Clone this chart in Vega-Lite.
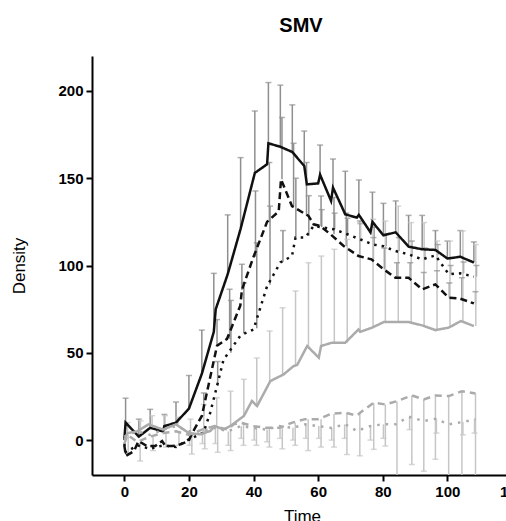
{
  "$schema": "https://vega.github.io/schema/vega-lite/v6.json",
  "width": 414,
  "height": 419,
  "autosize": {"type": "none"},
  "padding": {"left": 92, "top": 56, "right": 0, "bottom": 46},
  "background": "white",
  "title": {"text": "SMV", "font": "Liberation Sans", "fontSize": 20, "fontWeight": "bold", "color": "#000", "offset": 20, "dx": 2},
  "config": {
    "view": {"stroke": null},
    "axis": {"grid": false, "domainColor": "#000", "domainWidth": 2, "tickColor": "#000", "tickWidth": 2, "tickSize": 6,
      "labelFont": "Liberation Sans", "labelFontWeight": "bold", "labelFontSize": 15, "labelColor": "#000",
      "titleFont": "Liberation Sans", "titleFontWeight": "normal", "titleFontSize": 17, "titleColor": "#000"}
  },
  "datasets": {
    "lines": [
      {"s":"S1","t":0,"y":0},{"s":"S1","t":0.4,"y":10},{"s":"S1","t":4.5,"y":2},{"s":"S1","t":8,"y":7},{"s":"S1","t":12,"y":5},{"s":"S1","t":12.4,"y":8},{"s":"S1","t":16,"y":10},{"s":"S1","t":20,"y":18},{"s":"S1","t":24,"y":38},{"s":"S1","t":27.7,"y":62},{"s":"S1","t":28.3,"y":75},{"s":"S1","t":32,"y":95},{"s":"S1","t":36,"y":121},{"s":"S1","t":40.4,"y":153},{"s":"S1","t":44.2,"y":158},{"s":"S1","t":44.6,"y":170},{"s":"S1","t":48.3,"y":168},{"s":"S1","t":52,"y":165},{"s":"S1","t":55.7,"y":157},{"s":"S1","t":56.5,"y":146.5},{"s":"S1","t":60,"y":147},{"s":"S1","t":60.6,"y":152},{"s":"S1","t":64,"y":137},{"s":"S1","t":64.6,"y":144.6},{"s":"S1","t":68.4,"y":129.3},{"s":"S1","t":72,"y":127.4},{"s":"S1","t":72.6,"y":129},{"s":"S1","t":76.2,"y":119},{"s":"S1","t":76.8,"y":125},{"s":"S1","t":80.2,"y":117.3},{"s":"S1","t":84,"y":119},{"s":"S1","t":88,"y":110.8},{"s":"S1","t":92.2,"y":109.3},{"s":"S1","t":96.3,"y":108.9},{"s":"S1","t":100,"y":104},{"s":"S1","t":104,"y":105},{"s":"S1","t":108.2,"y":101.7},
      {"s":"S2","t":0,"y":-3},{"s":"S2","t":0.5,"y":-9},{"s":"S2","t":3,"y":-6.3},{"s":"S2","t":4.4,"y":-0.6},{"s":"S2","t":7,"y":-3.4},{"s":"S2","t":9.6,"y":-3.4},{"s":"S2","t":11.7,"y":-0.5},{"s":"S2","t":12.7,"y":-3.4},{"s":"S2","t":14.8,"y":-3.4},{"s":"S2","t":16.5,"y":-3},{"s":"S2","t":19.9,"y":-0.6},{"s":"S2","t":21,"y":4},{"s":"S2","t":24,"y":13.8},{"s":"S2","t":28.7,"y":54},{"s":"S2","t":31.8,"y":58},{"s":"S2","t":35.9,"y":77},{"s":"S2","t":36.4,"y":86},{"s":"S2","t":40,"y":105},{"s":"S2","t":44.2,"y":125},{"s":"S2","t":47.8,"y":131},{"s":"S2","t":48.5,"y":149.4},{"s":"S2","t":51.9,"y":134},{"s":"S2","t":57,"y":128.4},{"s":"S2","t":58.6,"y":123.6},{"s":"S2","t":60.7,"y":122.6},{"s":"S2","t":63.8,"y":117.9},{"s":"S2","t":67.9,"y":111.2},{"s":"S2","t":72.5,"y":105.4},{"s":"S2","t":76.5,"y":103.5},{"s":"S2","t":80.3,"y":97.8},{"s":"S2","t":83.9,"y":93},{"s":"S2","t":88,"y":93},{"s":"S2","t":92.2,"y":86.3},{"s":"S2","t":96.3,"y":89.2},{"s":"S2","t":100.4,"y":81.6},{"s":"S2","t":104,"y":81},{"s":"S2","t":108.2,"y":78.3},
      {"s":"S3","t":0,"y":-2},{"s":"S3","t":0.5,"y":-7},{"s":"S3","t":4,"y":-3},{"s":"S3","t":8,"y":-5},{"s":"S3","t":12,"y":-3},{"s":"S3","t":16,"y":-4},{"s":"S3","t":20,"y":0.4},{"s":"S3","t":24.5,"y":4.2},{"s":"S3","t":26.6,"y":15.7},{"s":"S3","t":28.7,"y":31},{"s":"S3","t":30.7,"y":46},{"s":"S3","t":36,"y":60},{"s":"S3","t":40,"y":63.4},{"s":"S3","t":44.2,"y":88.2},{"s":"S3","t":48.3,"y":101.7},{"s":"S3","t":51.9,"y":105.4},{"s":"S3","t":53,"y":116},{"s":"S3","t":56,"y":116},{"s":"S3","t":58.6,"y":122.6},{"s":"S3","t":65,"y":120.7},{"s":"S3","t":69,"y":117.9},{"s":"S3","t":73,"y":115},{"s":"S3","t":77,"y":112},{"s":"S3","t":80.3,"y":111},{"s":"S3","t":83.9,"y":108.3},{"s":"S3","t":88,"y":106.4},{"s":"S3","t":92.2,"y":103.5},{"s":"S3","t":96.3,"y":105.8},{"s":"S3","t":100.4,"y":95},{"s":"S3","t":104,"y":95.5},{"s":"S3","t":108.2,"y":93.6},
      {"s":"S4","t":0,"y":0},{"s":"S4","t":1,"y":4},{"s":"S4","t":4,"y":5},{"s":"S4","t":7.5,"y":9},{"s":"S4","t":12,"y":6},{"s":"S4","t":16,"y":9},{"s":"S4","t":20,"y":4},{"s":"S4","t":23.5,"y":3.3},{"s":"S4","t":26.6,"y":5.2},{"s":"S4","t":28,"y":8},{"s":"S4","t":30.7,"y":6.1},{"s":"S4","t":32.8,"y":8},{"s":"S4","t":37,"y":13.8},{"s":"S4","t":39.5,"y":22.4},{"s":"S4","t":41.1,"y":19.5},{"s":"S4","t":45.2,"y":33.8},{"s":"S4","t":49.3,"y":37.6},{"s":"S4","t":52.4,"y":42.4},{"s":"S4","t":53.5,"y":43},{"s":"S4","t":56.6,"y":53.9},{"s":"S4","t":60.2,"y":47.2},{"s":"S4","t":60.9,"y":53.9},{"s":"S4","t":64.3,"y":55.8},{"s":"S4","t":68.4,"y":55.8},{"s":"S4","t":72.5,"y":63.4},{"s":"S4","t":73,"y":62},{"s":"S4","t":76.7,"y":64.4},{"s":"S4","t":80.3,"y":67.6},{"s":"S4","t":84.4,"y":67.6},{"s":"S4","t":88,"y":67.6},{"s":"S4","t":92.2,"y":65.7},{"s":"S4","t":96.3,"y":63},{"s":"S4","t":100.4,"y":64.4},{"s":"S4","t":104.2,"y":68.2},{"s":"S4","t":108.2,"y":65.3},
      {"s":"S5","t":0,"y":-2},{"s":"S5","t":1,"y":3},{"s":"S5","t":4,"y":-1},{"s":"S5","t":8,"y":2},{"s":"S5","t":12,"y":4},{"s":"S5","t":16,"y":5},{"s":"S5","t":20,"y":3},{"s":"S5","t":24,"y":6},{"s":"S5","t":28,"y":8},{"s":"S5","t":32,"y":6},{"s":"S5","t":33.8,"y":9},{"s":"S5","t":36,"y":10},{"s":"S5","t":40,"y":8},{"s":"S5","t":44,"y":7},{"s":"S5","t":48,"y":7},{"s":"S5","t":52,"y":10},{"s":"S5","t":56,"y":12},{"s":"S5","t":60,"y":12},{"s":"S5","t":64,"y":15},{"s":"S5","t":68.4,"y":15.7},{"s":"S5","t":72,"y":14},{"s":"S5","t":73,"y":15.7},{"s":"S5","t":77.2,"y":21.4},{"s":"S5","t":80.8,"y":20.4},{"s":"S5","t":84.4,"y":22.3},{"s":"S5","t":89,"y":25.6},{"s":"S5","t":92.7,"y":23.3},{"s":"S5","t":96.3,"y":25.6},{"s":"S5","t":100.4,"y":25.2},{"s":"S5","t":104.5,"y":28},{"s":"S5","t":108.7,"y":26.7},
      {"s":"S6","t":0,"y":2},{"s":"S6","t":4,"y":5},{"s":"S6","t":8,"y":3},{"s":"S6","t":12,"y":6},{"s":"S6","t":16,"y":8},{"s":"S6","t":20,"y":5},{"s":"S6","t":24,"y":5},{"s":"S6","t":28,"y":7},{"s":"S6","t":32,"y":5},{"s":"S6","t":36,"y":8},{"s":"S6","t":40,"y":7},{"s":"S6","t":44,"y":6},{"s":"S6","t":48,"y":8},{"s":"S6","t":52,"y":7},{"s":"S6","t":56,"y":9},{"s":"S6","t":60,"y":8},{"s":"S6","t":64,"y":7},{"s":"S6","t":68.4,"y":9},{"s":"S6","t":72,"y":5.2},{"s":"S6","t":76,"y":8},{"s":"S6","t":80,"y":9},{"s":"S6","t":84,"y":9},{"s":"S6","t":88,"y":13.4},{"s":"S6","t":92.7,"y":10.9},{"s":"S6","t":96.3,"y":12.2},{"s":"S6","t":100.4,"y":9},{"s":"S6","t":104.5,"y":10.3},{"s":"S6","t":108.7,"y":11.9}
    ],
    "bars": [
      {"g":"d","t":0.4,"lo":10,"hi":24,"c":24},{"g":"d","t":4.5,"lo":2,"hi":12,"c":12},{"g":"d","t":8,"lo":7,"hi":17.6,"c":17.6},{"g":"d","t":12.4,"lo":8,"hi":14.7,"c":14.7},{"g":"d","t":16,"lo":10,"hi":21.8,"c":21.8},{"g":"d","t":20,"lo":18,"hi":37,"c":37},{"g":"d","t":24,"lo":38,"hi":63,"c":63},{"g":"d","t":27.7,"lo":62,"hi":95.5,"c":95.5},{"g":"d","t":32,"lo":95,"hi":129,"c":129},{"g":"d","t":36,"lo":121,"hi":161.8,"c":161.8},{"g":"d","t":40.4,"lo":153,"hi":188.5,"c":188.5},{"g":"d","t":44.6,"lo":170,"hi":204.8,"c":204.8},{"g":"d","t":48.3,"lo":168,"hi":203.3,"c":203.3},{"g":"d","t":52,"lo":165,"hi":192,"c":192},{"g":"d","t":55.7,"lo":157,"hi":177,"c":177},{"g":"d","t":60.6,"lo":152,"hi":169,"c":169},{"g":"d","t":64.6,"lo":144.6,"hi":161,"c":161},{"g":"d","t":68.4,"lo":129.3,"hi":154,"c":154},{"g":"d","t":72.6,"lo":129,"hi":149,"c":149},{"g":"d","t":76.8,"lo":125,"hi":142,"c":142},{"g":"d","t":80.2,"lo":117.3,"hi":135.6,"c":135.6},{"g":"d","t":84,"lo":119,"hi":137,"c":137},{"g":"d","t":88,"lo":110.8,"hi":128.7,"c":128.7},{"g":"d","t":92.2,"lo":109.3,"hi":128.7,"c":128.7},{"g":"d","t":96.3,"lo":108.9,"hi":120,"c":120},{"g":"d","t":100,"lo":104,"hi":114,"c":114},{"g":"d","t":104,"lo":105,"hi":120,"c":120},{"g":"d","t":108.2,"lo":101.7,"hi":113.5,"c":113.5},
      {"g":"d","t":24.6,"lo":13.8,"hi":27,"c":27},{"g":"d","t":28.7,"lo":54,"hi":69,"c":69},{"g":"d","t":32.6,"lo":58,"hi":86.4,"c":86.4},{"g":"d","t":36.4,"lo":86,"hi":100.7,"c":100.7},{"g":"d","t":40.6,"lo":105,"hi":142.7,"c":142.7},{"g":"d","t":44.9,"lo":125,"hi":159,"c":159},{"g":"d","t":48.8,"lo":149.4,"hi":184.8,"c":184.8},{"g":"d","t":52.4,"lo":134,"hi":170,"c":170},{"g":"d","t":56.4,"lo":128.4,"hi":159,"c":159},{"g":"d","t":60.9,"lo":122.6,"hi":139.8,"c":139.8},{"g":"d","t":64.9,"lo":117.9,"hi":139,"c":139},{"g":"d","t":68.7,"lo":111.2,"hi":130,"c":130},{"g":"d","t":72.9,"lo":105.4,"hi":125.5,"c":125.5},{"g":"d","t":77.1,"lo":103.5,"hi":116,"c":116},{"g":"d","t":80.5,"lo":97.8,"hi":110,"c":110},{"g":"d","t":84.4,"lo":93,"hi":101.6,"c":101.6},{"g":"d","t":88.5,"lo":93,"hi":101.6,"c":101.6},{"g":"d","t":92.7,"lo":86.3,"hi":96,"c":96},{"g":"d","t":96.8,"lo":89.2,"hi":97,"c":97},{"g":"d","t":100.6,"lo":81.6,"hi":90,"c":90},{"g":"d","t":104.5,"lo":81,"hi":93,"c":93},{"g":"d","t":108.7,"lo":78.3,"hi":85,"c":85},
      {"g":"d","t":28.9,"lo":31,"hi":45,"c":45},{"g":"d","t":33,"lo":50,"hi":80,"c":80},{"g":"d","t":37,"lo":61,"hi":90,"c":90},{"g":"d","t":41,"lo":64,"hi":113,"c":113},{"g":"d","t":45.1,"lo":89,"hi":134,"c":134},{"g":"d","t":49.1,"lo":102,"hi":120,"c":120},{"g":"d","t":53.1,"lo":116,"hi":150,"c":150},{"g":"d","t":57.1,"lo":117,"hi":140,"c":140},{"g":"d","t":61.1,"lo":122,"hi":132,"c":132},{"g":"d","t":65.1,"lo":120.7,"hi":130,"c":130},{"g":"d","t":69.1,"lo":117.9,"hi":127,"c":127},{"g":"d","t":73.1,"lo":115,"hi":124,"c":124},{"g":"d","t":77.3,"lo":112,"hi":122,"c":122},{"g":"d","t":81,"lo":111,"hi":118,"c":118},{"g":"d","t":85,"lo":108.3,"hi":116,"c":116},{"g":"d","t":89,"lo":106.4,"hi":114,"c":114},{"g":"d","t":93,"lo":103.5,"hi":110,"c":110},{"g":"d","t":97,"lo":105.8,"hi":112,"c":112},{"g":"d","t":101,"lo":95,"hi":100,"c":100},{"g":"d","t":105,"lo":95.5,"hi":102,"c":102},{"g":"d","t":109,"lo":93.6,"hi":100,"c":100},
      {"g":"l","t":1,"lo":4,"hi":10,"c":10},{"g":"l","t":5,"lo":5,"hi":11,"c":11},{"g":"l","t":8.6,"lo":9,"hi":14,"c":14},{"g":"l","t":12.6,"lo":6,"hi":14,"c":14},{"g":"l","t":16.6,"lo":9,"hi":13,"c":13},{"g":"l","t":20.5,"lo":4,"hi":12,"c":12},{"g":"l","t":24.6,"lo":3.3,"hi":20.4,"c":20.4},{"g":"l","t":28.6,"lo":8,"hi":24.3,"c":24.3},{"g":"l","t":32.9,"lo":8,"hi":28,"c":28},{"g":"l","t":37,"lo":13.8,"hi":34.8,"c":34.8},{"g":"l","t":41,"lo":19.5,"hi":47,"c":47},{"g":"l","t":45,"lo":33.8,"hi":62.5,"c":62.5},{"g":"l","t":49,"lo":37.6,"hi":75.8,"c":75.8},{"g":"l","t":53,"lo":42.4,"hi":85.4,"c":85.4},{"g":"l","t":57,"lo":53.9,"hi":101.6,"c":101.6},{"g":"l","t":61,"lo":53.9,"hi":105.4,"c":105.4},{"g":"l","t":65,"lo":55.8,"hi":109.3,"c":109.3},{"g":"l","t":69,"lo":55.8,"hi":115,"c":115},{"g":"l","t":73,"lo":62,"hi":124.5,"c":124.5},{"g":"l","t":77,"lo":64.4,"hi":126.5,"c":126.5},{"g":"l","t":80.8,"lo":67.6,"hi":125.5,"c":125.5},{"g":"l","t":84.8,"lo":67.6,"hi":134,"c":134},{"g":"l","t":88.8,"lo":67.6,"hi":124.6,"c":124.6},{"g":"l","t":92.8,"lo":65.7,"hi":124.6,"c":124.6},{"g":"l","t":96.8,"lo":63,"hi":114,"c":114},{"g":"l","t":100.8,"lo":64.4,"hi":114,"c":114},{"g":"l","t":104.8,"lo":68.2,"hi":119.8,"c":119.8},{"g":"l","t":108.8,"lo":65.3,"hi":112,"c":112},
      {"g":"l","t":1.2,"lo":-8,"hi":3,"c":-8},{"g":"l","t":4.9,"lo":-12,"hi":-1,"c":-12},{"g":"l","t":8.9,"lo":-6,"hi":2,"c":-6},{"g":"l","t":12.9,"lo":-4,"hi":4,"c":-4},{"g":"l","t":16.9,"lo":-3,"hi":5,"c":-3},{"g":"l","t":20.9,"lo":-8,"hi":3,"c":-8},{"g":"l","t":24.9,"lo":-5,"hi":6,"c":-5},{"g":"l","t":28.9,"lo":-7,"hi":8,"c":-7},{"g":"l","t":32.9,"lo":-6,"hi":6,"c":-6},{"g":"l","t":36.9,"lo":-3,"hi":10,"c":-3},{"g":"l","t":40.9,"lo":-3,"hi":8,"c":-3},{"g":"l","t":44.9,"lo":-4,"hi":7,"c":-4},{"g":"l","t":48.9,"lo":-5,"hi":7,"c":-5},{"g":"l","t":52.9,"lo":-3,"hi":10,"c":-3},{"g":"l","t":56.9,"lo":-6,"hi":12,"c":-6},{"g":"l","t":60.9,"lo":-4,"hi":12,"c":-4},{"g":"l","t":64.9,"lo":-4,"hi":15,"c":-4},{"g":"l","t":68.9,"lo":-8.2,"hi":15.7,"c":-8.2},{"g":"l","t":72.9,"lo":-9,"hi":15.7,"c":-9},{"g":"l","t":77.2,"lo":-5.3,"hi":21.4,"c":-5.3},{"g":"l","t":80.8,"lo":-3.4,"hi":20.4,"c":-3.4},{"g":"l","t":84.4,"lo":-25,"hi":22.3,"c":-25},{"g":"l","t":89,"lo":-14,"hi":25.6,"c":-14},{"g":"l","t":92.7,"lo":-17.8,"hi":23.3,"c":-17.8},{"g":"l","t":96.3,"lo":-11,"hi":25.6,"c":-11},{"g":"l","t":100.4,"lo":-25,"hi":25.2,"c":-25},{"g":"l","t":104.5,"lo":-25,"hi":28,"c":-25},{"g":"l","t":108.7,"lo":-25,"hi":26.7,"c":-25},
      {"g":"l","t":20.2,"lo":-3,"hi":5,"c":-3},{"g":"l","t":24.2,"lo":-2,"hi":5,"c":-2},{"g":"l","t":28.2,"lo":-2,"hi":7,"c":-2},{"g":"l","t":32.2,"lo":-3,"hi":5,"c":-3},{"g":"l","t":36.2,"lo":1,"hi":8,"c":1},{"g":"l","t":40.2,"lo":0,"hi":7,"c":0},{"g":"l","t":44.2,"lo":-1,"hi":6,"c":-1},{"g":"l","t":48.2,"lo":1,"hi":8,"c":1},{"g":"l","t":52.2,"lo":0,"hi":7,"c":0},{"g":"l","t":56.2,"lo":1,"hi":9,"c":1},{"g":"l","t":60.2,"lo":1,"hi":8,"c":1},{"g":"l","t":64.2,"lo":0,"hi":7,"c":0},{"g":"l","t":68.2,"lo":1,"hi":9,"c":1},{"g":"l","t":76.2,"lo":0,"hi":8,"c":0},{"g":"l","t":80.2,"lo":1,"hi":9,"c":1},{"g":"l","t":88.3,"lo":6,"hi":13.4,"c":6},{"g":"l","t":96.6,"lo":4,"hi":12.2,"c":4},{"g":"l","t":104.8,"lo":3,"hi":10.3,"c":3},{"g":"l","t":108.4,"lo":4,"hi":11.9,"c":4}
    ]
  },
  "layer": [
    {
      "data": {"name": "bars"},
      "mark": {"type": "rule", "strokeWidth": 1.5, "clip": true},
      "encoding": {
        "x": {"field": "t", "type": "quantitative", "scale": {"domain": [-10, 120], "range": [0, 420], "nice": false, "zero": false},
          "axis": {"values": [0, 20, 40, 60, 80, 100, 120], "title": "Time", "labelFlush": false, "labelPadding": 3, "titlePadding": 9}},
        "y": {"field": "lo", "type": "quantitative", "scale": {"domain": [-20, 220], "nice": false, "zero": false},
          "axis": {"values": [0, 50, 100, 150, 200], "title": "Density", "labelPadding": 3, "titlePadding": 29}},
        "y2": {"field": "hi"},
        "color": {"field": "g", "type": "nominal", "scale": {"domain": ["d", "l"], "range": ["#8f8f8f", "#c6c6c6"]}, "legend": null}
      }
    },
    {
      "data": {"name": "bars"},
      "mark": {"type": "tick", "orient": "horizontal", "size": 6, "thickness": 1.5, "clip": true},
      "encoding": {
        "x": {"field": "t", "type": "quantitative"},
        "y": {"field": "c", "type": "quantitative"},
        "color": {"field": "g", "type": "nominal", "scale": {"domain": ["d", "l"], "range": ["#8f8f8f", "#c6c6c6"]}, "legend": null}
      }
    },
    {
      "data": {"name": "lines"},
      "mark": {"type": "line", "strokeWidth": 2.5, "clip": true},
      "encoding": {
        "x": {"field": "t", "type": "quantitative"},
        "y": {"field": "y", "type": "quantitative"},
        "detail": {"field": "s"},
        "stroke": {"field": "s", "type": "nominal", "scale": {"domain": ["S1","S2","S3","S4","S5","S6"], "range": ["#111111","#111111","#111111","#ababab","#ababab","#ababab"]}, "legend": null},
        "strokeDash": {"field": "s", "type": "nominal", "scale": {"domain": ["S1","S2","S3","S4","S5","S6"], "range": [[1,0],[7,4],[2.5,5],[1,0],[7,5],[2.5,6]]}, "legend": null}
      }
    }
  ]
}
